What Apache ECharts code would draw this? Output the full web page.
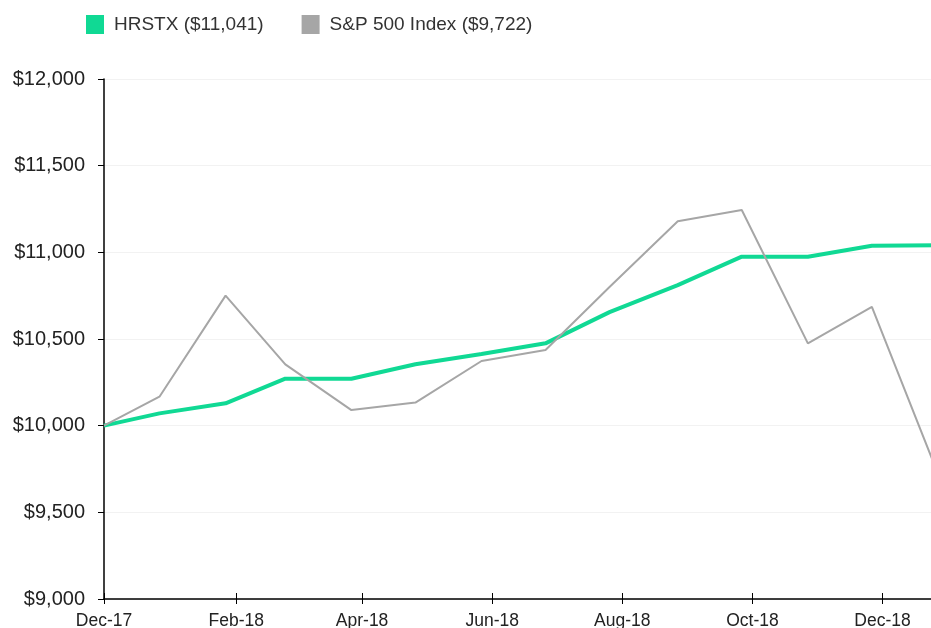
<!DOCTYPE html>
<html lang="en">
  <head>
    <meta charset="UTF-8" />
    <title>Growth of $10,000</title>
    <script src="https://cdn.jsdelivr.net/npm/echarts@6/dist/echarts.min.js"></script>
    <style>
      html, body { margin: 0; padding: 0; overflow: hidden; background: #fff; }
    </style>
  </head>
  <body>
    <!-- a bit wider than the window: the last point sits just past the right edge -->
    <div id="main" style="width: 960px; height: 628px"></div>
    <script type="text/javascript">
      // month-end observations (as placed on the date axis)
      const dates = [
        "2017-12-01", "2017-12-27", "2018-01-27", "2018-02-24", "2018-03-27",
        "2018-04-26", "2018-05-27", "2018-06-26", "2018-07-26", "2018-08-27",
        "2018-09-26", "2018-10-27", "2018-11-26", "2018-12-27"
      ];
      const hrstx = [10000, 10071, 10129, 10271, 10271, 10354, 10413, 10475, 10655, 10811, 10975, 10975, 11038, 11041];
      const sp500 = [10000, 10167, 10750, 10354, 10090, 10133, 10373, 10437, 10800, 11179, 11244, 10475, 10686, 9722];
      const tickDates = ["2017-12-01", "2018-02-01", "2018-04-01", "2018-06-01", "2018-08-01", "2018-10-01", "2018-12-01"];
      const tickLabels = ["Dec-17", "Feb-18", "Apr-18", "Jun-18", "Aug-18", "Oct-18", "Dec-18"];
      const seriesNames = ["HRSTX ($11,041)", "S&P 500 Index ($9,722)"];

      // x runs in days from the first date (UTC so no DST drift)
      const DAY = 86400000;
      const utc = (s) => {
        const p = s.split("-").map(Number);
        return Date.UTC(p[0], p[1] - 1, p[2]);
      };
      const t0 = utc(dates[0]);
      const dayOf = (s) => Math.round((utc(s) - t0) / DAY);
      const tickValues = tickDates.map(dayOf);
      const money = (v) => "$" + String(v).replace(/\B(?=(\d{3})+(?!\d))/g, ",");

      let myChart = echarts.init(document.getElementById("main"));

      const xMin = 0;
      const xMax = dayOf(dates[dates.length - 1]);

      let options = {
        animation: false,
        legend: {
          left: 81,
          top: 10,
          icon: "rect",
          itemWidth: 18,
          itemHeight: 19,
          itemGap: 38,
          textStyle: { fontFamily: "Liberation Sans", fontSize: 19, color: "#333", padding: [0, 0, 0, 5] },
          data: seriesNames,
        },
        grid: { left: 104, right: 22, top: 79, bottom: 29, outerBoundsMode: "none" },
        xAxis: [
          {
            type: "value",
            min: xMin,
            max: xMax,
            axisLine: { onZero: false, lineStyle: { color: "#000", width: 1.5 } },
            axisTick: { show: true, length: 5, customValues: tickValues, lineStyle: { color: "#000" } },
            axisLabel: {
              customValues: tickValues,
              margin: 13,
              fontFamily: "Liberation Sans",
              fontSize: 17.5,
              color: "#222",
              formatter: (v) => tickLabels[tickValues.indexOf(v)] || "",
            },
            splitLine: { show: false },
          },
          {
            // second pass of ticks pointing up, so they cross the axis line
            type: "value",
            min: xMin,
            max: xMax,
            position: "bottom",
            axisLine: { show: false, onZero: false },
            axisTick: { show: true, inside: true, length: 6, customValues: tickValues, lineStyle: { color: "#000" } },
            axisLabel: { show: false },
            splitLine: { show: false },
          },
        ],
        yAxis: {
          type: "value",
          min: 9000,
          max: 12000,
          interval: 500,
          axisLine: { show: true, lineStyle: { color: "#000", width: 1.5 } },
          axisTick: { show: true, length: 6, lineStyle: { color: "#000" } },
          axisLabel: { margin: 19, fontFamily: "Liberation Sans", fontSize: 20, color: "#222", formatter: money },
          splitLine: { lineStyle: { color: "#f2f2f2", width: 1 } },
        },
        series: [
          {
            name: seriesNames[0],
            type: "line",
            symbol: "none",
            color: "#10d994",
            lineStyle: { width: 4, color: "#10d994" },
            data: dates.map((d, i) => [dayOf(d), hrstx[i]]),
          },
          {
            name: seriesNames[1],
            type: "line",
            symbol: "none",
            color: "#a6a6a6",
            lineStyle: { width: 2, color: "#a6a6a6" },
            data: dates.map((d, i) => [dayOf(d), sp500[i]]),
          },
        ],
      };

      myChart.setOption(options);
    </script>
  </body>
</html>
